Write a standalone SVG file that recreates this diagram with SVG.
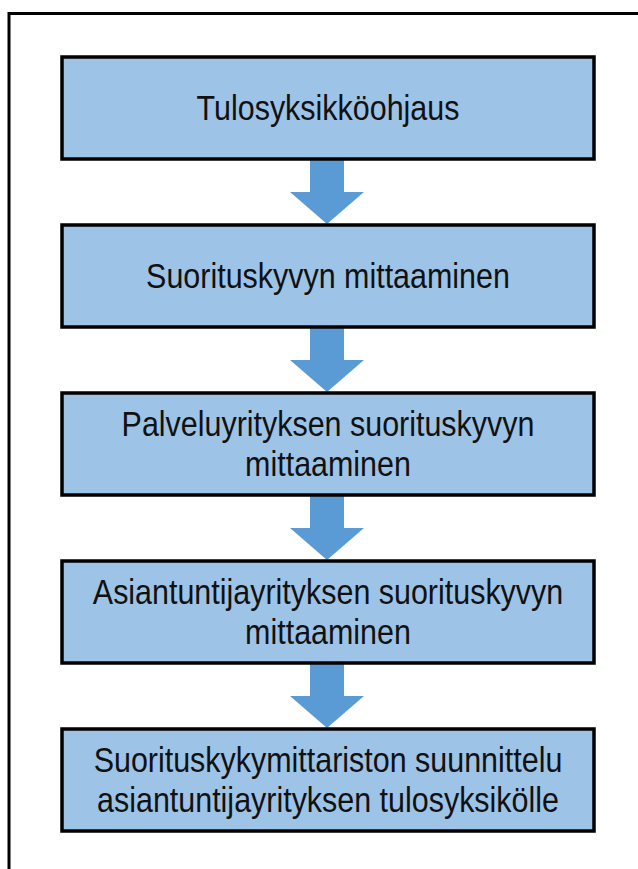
<svg xmlns="http://www.w3.org/2000/svg" width="638" height="869" viewBox="0 0 638 869">
<defs>
<style>
.box{fill:#9DC3E6;stroke:#000;stroke-width:3.5}
.arrow{fill:#5B9BD5;stroke:none}
.lbl{font-family:"Liberation Sans",Arial,sans-serif;font-size:35px;fill:#111;text-anchor:middle}
</style>
<path id="arr" d="M310,160 H344 V192 H364 L327,224 L290,192 H310 Z"/>
</defs>
<rect width="638" height="869" fill="#fff"/>
<path d="M9,869 V13.5 H638" fill="none" stroke="#000" stroke-width="3"/>
<g id="connectors">
<use href="#arr" class="arrow"/>
<use href="#arr" class="arrow" transform="translate(0,168)"/>
<use href="#arr" class="arrow" transform="translate(0,336)"/>
<use href="#arr" class="arrow" transform="translate(0,504)"/>
</g>
<g id="n1">
<rect class="box" x="62" y="57" width="532" height="102"/>
<text class="lbl" transform="translate(328,120) scale(0.87,1)">Tulosyksikköohjaus</text>
</g>
<g id="n2">
<rect class="box" x="62" y="225" width="532" height="102"/>
<text class="lbl" transform="translate(328,288) scale(0.87,1)">Suorituskyvyn mittaaminen</text>
</g>
<g id="n3">
<rect class="box" x="62" y="393" width="532" height="102"/>
<text class="lbl" transform="translate(328,436) scale(0.87,1)">Palveluyrityksen suorituskyvyn</text>
<text class="lbl" transform="translate(328,476) scale(0.87,1)">mittaaminen</text>
</g>
<g id="n4">
<rect class="box" x="62" y="561" width="532" height="102"/>
<text class="lbl" transform="translate(328,604) scale(0.87,1)">Asiantuntijayrityksen suorituskyvyn</text>
<text class="lbl" transform="translate(328,644) scale(0.87,1)">mittaaminen</text>
</g>
<g id="n5">
<rect class="box" x="62" y="729" width="532" height="102"/>
<text class="lbl" transform="translate(328,772) scale(0.87,1)">Suorituskykymittariston suunnittelu</text>
<text class="lbl" transform="translate(328,812) scale(0.87,1)">asiantuntijayrityksen tulosyksikölle</text>
</g>
</svg>
